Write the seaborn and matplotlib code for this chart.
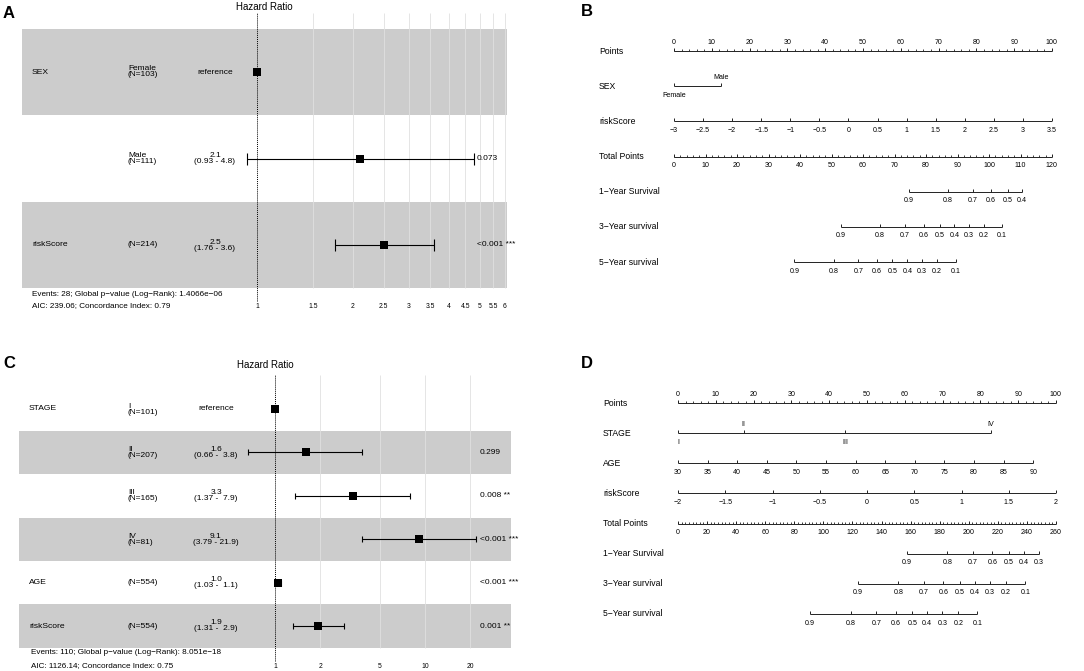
import numpy as np
import pandas as pd
import matplotlib
matplotlib.use("Agg")
import matplotlib.pyplot as plt
import seaborn as sns
from matplotlib.transforms import offset_copy

# ---- Panel A: Cox model (SEX + riskScore) ----
a_var = ["SEX", "", "riskScore"]
a_level = ["Female", "Male", ""]
a_n = [103, 111, 214]
a_hr = [1.0, 2.1, 2.5]
a_hr_text = ["reference", "2.1", "2.5"]
a_lo = [np.nan, 0.93, 1.76]
a_hi = [np.nan, 4.8, 3.6]
a_p = ["", "0.073", "<0.001 ***"]
a_ticks = [1, 1.5, 2, 2.5, 3, 3.5, 4, 4.5, 5, 5.5, 6]
a_footer = ["Events: 28; Global p\u2212value (Log\u2212Rank): 1.4066e\u221206",
            "AIC: 239.06; Concordance Index: 0.79"]

# ---- Panel C: Cox model (STAGE + AGE + riskScore) ----
c_var = ["STAGE", "", "", "", "AGE", "riskScore"]
c_level = ["I", "II", "III", "IV", "", ""]
c_n = [101, 207, 165, 81, 554, 554]
c_hr = [1.0, 1.6, 3.3, 9.1, 1.05, 1.93]
c_hr_text = ["reference", "1.6", "3.3", "9.1", "1.0", "1.9"]
c_lo = [np.nan, 0.66, 1.37, 3.79, 1.03, 1.31]
c_hi = [np.nan, 3.8, 7.9, 21.9, 1.1, 2.9]
c_p = ["", "0.299", "0.008 **", "<0.001 ***", "<0.001 ***", "0.001 **"]
c_ticks = [1, 2, 5, 10, 20]
c_footer = ["Events: 110; Global p\u2212value (Log\u2212Rank): 8.051e\u221218",
            "AIC: 1126.14; Concordance Index: 0.75"]

# ---- Panel B: nomogram ----
b_points_ticks = [0, 10, 20, 30, 40, 50, 60, 70, 80, 90, 100]
b_sex_levels = ["Female", "Male"]
b_sex_points = [0, 12.5]
b_risk_ticks = [-3, -2.5, -2, -1.5, -1, -0.5, 0, 0.5, 1, 1.5, 2, 2.5, 3, 3.5]
b_total_ticks = [0, 10, 20, 30, 40, 50, 60, 70, 80, 90, 100, 110, 120]
b_surv1 = [0.9, 0.8, 0.7, 0.6, 0.5, 0.4]
b_surv1_total = [74.5, 87.0, 94.8, 100.7, 106.0, 110.5]
b_surv3 = [0.9, 0.8, 0.7, 0.6, 0.5, 0.4, 0.3, 0.2, 0.1]
b_surv3_total = [53.0, 65.4, 73.3, 79.3, 84.3, 89.0, 93.5, 98.4, 104.2]
b_surv5 = [0.9, 0.8, 0.7, 0.6, 0.5, 0.4, 0.3, 0.2, 0.1]
b_surv5_total = [38.2, 50.7, 58.5, 64.4, 69.3, 74.1, 78.7, 83.5, 89.4]

# ---- Panel D: nomogram ----
d_points_ticks = [0, 10, 20, 30, 40, 50, 60, 70, 80, 90, 100]
d_stage_levels = ["I", "II", "III", "IV"]
d_stage_points = [0, 17.4, 44.3, 82.7]
d_age_ticks = [30, 35, 40, 45, 50, 55, 60, 65, 70, 75, 80, 85, 90]
d_age_max_points = 94.0
d_risk_ticks = [-2, -1.5, -1, -0.5, 0, 0.5, 1, 1.5, 2]
d_total_ticks = [0, 20, 40, 60, 80, 100, 120, 140, 160, 180, 200, 220, 240, 260]
d_surv1 = [0.9, 0.8, 0.7, 0.6, 0.5, 0.4, 0.3]
d_surv1_total = [157.3, 185.3, 202.9, 216.2, 227.7, 238.0, 248.3]
d_surv3 = [0.9, 0.8, 0.7, 0.6, 0.5, 0.4, 0.3, 0.2, 0.1]
d_surv3_total = [123.6, 151.6, 169.2, 182.5, 194.0, 204.3, 214.6, 225.6, 238.9]
d_surv5 = [0.9, 0.8, 0.7, 0.6, 0.5, 0.4, 0.3, 0.2, 0.1]
d_surv5_total = [90.6, 118.8, 136.4, 149.9, 161.2, 171.3, 181.8, 192.8, 205.9]

sns.set_theme(style="white")
plt.rcParams["font.family"] = ["Liberation Sans", "DejaVu Sans"]
plt.rcParams["text.color"] = "black"
plt.rcParams["xtick.color"] = "black"
plt.rcParams["xtick.labelcolor"] = "black"

W, H = 1084, 671
fig = plt.figure(figsize=(W / 100, H / 100), dpi=100)


def px_axes(x0, x1, top, bottom, row0, dy):
    ax = fig.add_axes([x0 / W, 1 - bottom / H, (x1 - x0) / W, (bottom - top) / H])
    ax.set_ylim((bottom - row0) / dy, (top - row0) / dy)
    return ax


def fig_text(x, y, s, **kw):
    fig.text(x / W, 1 - y / H, s, **kw)


def fmt(v):
    return "%g" % v if v >= 0 else "\u2212%g" % -v


def forest(ax, df, xlim, ticks, x0, x1, cols, cap):
    n = len(df)
    ax.set_xscale("log")
    ax.set_xlim(xlim)
    top = ax.get_ylim()[1]
    for i in range(n):
        if (n - 1 - i) % 2 == 0:
            ax.axhspan(i - 0.5, i + 0.5, color="#cccccc", lw=0, zorder=0)
    ax.vlines(ticks[1:], top, n - 0.5, color="#e0e0e0", lw=0.6, zorder=1)
    ax.axvline(1, color="black", ls=(0, (1, 1)), lw=0.7, zorder=2)

    ci = df.dropna(subset=["lo"])
    ax.errorbar(ci["hr"], ci["row"], xerr=[ci["hr"] - ci["lo"], ci["hi"] - ci["hr"]],
                fmt="none", ecolor="black", elinewidth=0.8, capsize=cap,
                capthick=0.8, zorder=3)
    sns.scatterplot(data=df, x="hr", y="row", marker="s", s=30, color="black",
                    linewidth=0, ax=ax, zorder=4, legend=False)

    tr = ax.get_yaxis_transform()
    cx = [(c - x0) / (x1 - x0) for c in cols]
    for r in df.itertuples():
        ax.text(cx[0], r.row, r.var, transform=tr, ha="left", va="center", fontsize=6.1)
        lev = f"{r.level}\n(N={r.n})" if r.level else f"(N={r.n})"
        ax.text(cx[1], r.row, lev, transform=tr, ha="left", va="center",
                fontsize=6.0, linespacing=0.8)
        if r.hr_text == "reference":
            hr_lab = "reference"
        else:
            hr_lab = f"{r.hr_text}\n({r.lo:.2f} - {r.hi:{r.w}.1f})"
        ax.text(cx[2], r.row, hr_lab, transform=tr, ha="center", va="center",
                fontsize=6.0, linespacing=0.8)
        ax.text(cx[3], r.row, r.p, transform=tr, ha="left", va="center",
                fontsize=6.0, clip_on=False)

    ax.set_xticks(ticks)
    ax.set_xticklabels([fmt(t) for t in ticks])
    ax.minorticks_off()
    ax.tick_params(axis="x", length=0, pad=1.0, labelsize=4.9, labelcolor="black")
    ax.set_yticks([])
    ax.set_xlabel("")
    ax.set_ylabel("")
    for sp in ax.spines.values():
        sp.set_visible(False)


def build_df(var, level, n, hr, hr_text, lo, hi, p):
    df = pd.DataFrame({"var": var, "level": level, "n": n, "hr": hr,
                       "hr_text": hr_text, "lo": lo, "hi": hi, "p": p})
    df["row"] = np.arange(len(df))
    df["w"] = max(len(f"{v:.1f}") for v in df["hi"].dropna())
    return df


# Panel A
df_a = build_df(a_var, a_level, a_n, a_hr, a_hr_text, a_lo, a_hi, a_p)
ax_a = px_axes(22, 507, 13, 302, 72, 86.5)
forest(ax_a, df_a, (np.exp((22 - 257) / 138.4), np.exp((507 - 257) / 138.4)),
       a_ticks, 22, 507, [32, 128, 215, 477], cap=4.5)
fig_text(264, 7, "Hazard Ratio", ha="center", va="center", fontsize=7)
fig_text(32, 295, a_footer[0], ha="left", va="center", fontsize=5.9)
fig_text(32, 306, a_footer[1], ha="left", va="center", fontsize=5.9)

# Panel C
df_c = build_df(c_var, c_level, c_n, c_hr, c_hr_text, c_lo, c_hi, c_p)
ax_c = px_axes(19, 511, 375, 662, 409, 43.4)
forest(ax_c, df_c, (np.exp((19 - 275) / 65.1), np.exp((511 - 275) / 65.1)),
       c_ticks, 19, 511, [29, 128, 216, 480], cap=2.5)
fig_text(265, 365, "Hazard Ratio", ha="center", va="center", fontsize=7)
fig_text(31, 653, c_footer[0], ha="left", va="center", fontsize=5.9)
fig_text(31, 666, c_footer[1], ha="left", va="center", fontsize=5.9)


def nomo_row(ax, y, label, pos, texts, sides, minor=None):
    col = "#222222"
    ax.plot([min(pos), max(pos)], [y, y], color=col, lw=0.7, solid_capstyle="butt")
    ax.plot(pos, [y] * len(pos), ls="none", marker=2, ms=2.3, mew=0.7, color=col)
    if minor is not None:
        ax.plot(minor, [y] * len(minor), ls="none", marker=2, ms=1.2, mew=0.6, color=col)
    for p, t, s in zip(pos, texts, sides):
        off = 6.0 if s == "above" else -6.5
        tr = offset_copy(ax.transData, fig=fig, y=off, units="points")
        ax.text(p, y, t, transform=tr, ha="center", va="center", fontsize=5.1)
    ax.text(-0.198, y, label, transform=ax.get_yaxis_transform(), ha="left",
            va="center", fontsize=6.2)


def finish(ax):
    ax.set_xlim(0, 100)
    ax.axis("off")


# Panel B
ax_b = px_axes(674, 1052, 30, 280, 51, 35.17)
finish(ax_b)
nomo_row(ax_b, 0, "Points", b_points_ticks, [fmt(v) for v in b_points_ticks],
         ["above"] * 11, minor=np.arange(0, 101, 2))
nomo_row(ax_b, 1, "SEX", b_sex_points, b_sex_levels, ["below", "above"])
nomo_row(ax_b, 2, "riskScore", np.interp(b_risk_ticks, [-3, 3.5], [0, 100]),
         [fmt(v) for v in b_risk_ticks], ["below"] * len(b_risk_ticks))
nomo_row(ax_b, 3, "Total Points", np.interp(b_total_ticks, [0, 120], [0, 100]),
         [fmt(v) for v in b_total_ticks], ["below"] * len(b_total_ticks),
         minor=np.arange(0, 121, 2) / 120 * 100)
for k, (lab, s, t) in enumerate([("1\u2212Year Survival", b_surv1, b_surv1_total),
                                 ("3\u2212Year survival", b_surv3, b_surv3_total),
                                 ("5\u2212Year survival", b_surv5, b_surv5_total)]):
    nomo_row(ax_b, 4 + k, lab, np.array(t) / 120 * 100, [fmt(v) for v in s],
             ["below"] * len(s))

# Panel D
ax_d = px_axes(678, 1056, 385, 632, 403, 30.14)
finish(ax_d)
nomo_row(ax_d, 0, "Points", d_points_ticks, [fmt(v) for v in d_points_ticks],
         ["above"] * 11, minor=np.arange(0, 101, 2))
nomo_row(ax_d, 1, "STAGE", d_stage_points, d_stage_levels,
         ["below", "above", "below", "above"])
nomo_row(ax_d, 2, "AGE", np.interp(d_age_ticks, [30, 90], [0, d_age_max_points]),
         [fmt(v) for v in d_age_ticks], ["below"] * len(d_age_ticks))
nomo_row(ax_d, 3, "riskScore", np.interp(d_risk_ticks, [-2, 2], [0, 100]),
         [fmt(v) for v in d_risk_ticks], ["below"] * len(d_risk_ticks))
nomo_row(ax_d, 4, "Total Points", np.interp(d_total_ticks, [0, 260], [0, 100]),
         [fmt(v) for v in d_total_ticks], ["below"] * len(d_total_ticks),
         minor=np.arange(0, 261, 2.5) / 260 * 100)
for k, (lab, s, t) in enumerate([("1\u2212Year Survival", d_surv1, d_surv1_total),
                                 ("3\u2212Year survival", d_surv3, d_surv3_total),
                                 ("5\u2212Year survival", d_surv5, d_surv5_total)]):
    nomo_row(ax_d, 5 + k, lab, np.array(t) / 260 * 100, [fmt(v) for v in s],
             ["below"] * len(s))

# panel letters
for lab, (x, y) in {"A": (9, 13), "B": (587, 12), "C": (9, 364), "D": (587, 364)}.items():
    fig_text(x, y, lab, ha="center", va="center", fontsize=12, fontweight="bold")

fig.savefig("out.png", dpi=100)
